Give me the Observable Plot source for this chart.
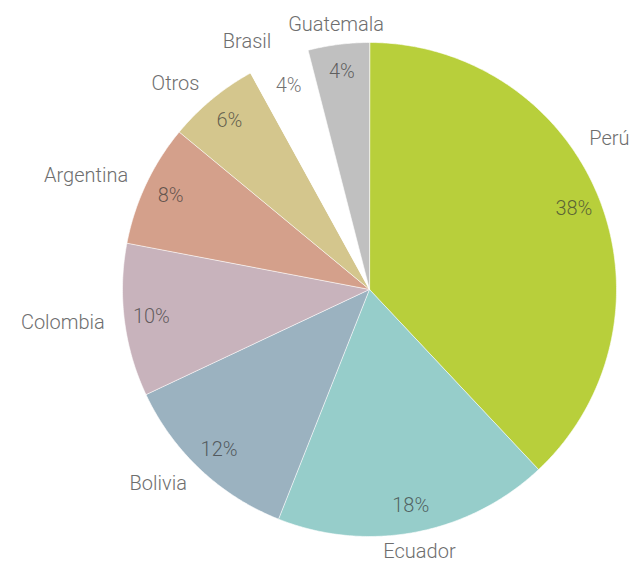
<!DOCTYPE html>
<html><head><meta charset="utf-8">
<script src="https://cdn.jsdelivr.net/npm/d3@7"></script>
<script src="https://cdn.jsdelivr.net/npm/@observablehq/plot@0.6"></script>
<style>body{margin:0;background:#fff;}</style>
</head><body><div id="chart"></div>
<script>
// Data
const countries = ["Perú", "Ecuador", "Bolivia", "Colombia", "Argentina", "Otros", "Brasil", "Guatemala"];
const shares = [38, 18, 12, 10, 8, 6, 4, 4];
const sliceColors = ["#b8cf3b", "#96cdca", "#9bb2c0", "#c8b3bc", "#d4a08b", "#d4c68d", "#ffffff", "#c0c0c0"];

// Layout
const W = 635, H = 562, cx = 369, cy = 289, R = 247;
const FONT_SIZE = 20, FONT_FAMILY = "Roboto", FONT_WEIGHT = 300;

const total = d3.sum(shares);
let acc = 0;
const slices = countries.map((name, i) => {
  const a0 = acc / total * 2 * Math.PI;
  acc += shares[i];
  const a1 = acc / total * 2 * Math.PI;
  return {name, value: shares[i], a0, a1, mid: (a0 + a1) / 2};
});

// slice polygons in unit coordinates (angle clockwise from north)
const poly = [];
for (const s of slices) {
  poly.push({name: s.name, x: 0, y: 0});
  const n = Math.max(2, Math.ceil((s.a1 - s.a0) / (Math.PI / 360)));
  for (let k = 0; k <= n; k++) {
    const a = s.a0 + (s.a1 - s.a0) * k / n;
    poly.push({name: s.name, x: Math.sin(a), y: Math.cos(a)});
  }
}

// percent labels
const pctLabels = slices.map(s => ({
  text: Math.round(s.value / total * 100) + "%",
  x: 0.89 * Math.sin(s.mid), y: 0.89 * Math.cos(s.mid)
}));

// name labels, slid along the circle if needed to fit in the canvas
const ctx = document.createElement("canvas").getContext("2d");
ctx.font = `${FONT_WEIGHT} ${FONT_SIZE}px ${FONT_FAMILY}`;
const nameLabels = slices.map(s => {
  let a = s.mid;
  const r = 1.08;
  const sn = Math.sin(a);
  const anchor = sn > 0.35 ? "start" : sn < -0.35 ? "end" : "middle";
  const w = ctx.measureText(s.name).width / R;
  let target = null;
  if (anchor === "start") {
    const maxX = (W - 6 - cx) / R - w;
    if (r * Math.sin(a) > maxX) target = maxX / r;
  } else if (anchor === "end") {
    const minX = -(cx - 6) / R + w;
    if (r * Math.sin(a) < minX) target = minX / r;
  }
  if (target !== null) {
    const as = Math.asin(target);
    a = Math.cos(a) >= 0 ? as : Math.PI - as;
  }
  return {text: s.name, anchor, x: r * Math.sin(a), y: r * Math.cos(a)};
});

const textOpts = {x: "x", y: "y", text: "text", fontSize: FONT_SIZE, fontWeight: FONT_WEIGHT};

const chart = Plot.plot({
  width: W, height: H,
  x: {domain: [-1, 1], range: [cx - R, cx + R], axis: null},
  y: {domain: [-1, 1], range: [cy + R, cy - R], axis: null},
  color: {domain: countries, range: sliceColors},
  style: {fontFamily: FONT_FAMILY, background: "white"},
  marks: [
    Plot.line(poly, {x: "x", y: "y", z: "name", fill: "name", stroke: "white", strokeWidth: 0.6, curve: "linear-closed"}),
    Plot.text(pctLabels, {...textOpts, textAnchor: "middle", fill: "#333", fillOpacity: 0.7}),
    ...["start", "middle", "end"].map(anc =>
      Plot.text(nameLabels.filter(d => d.anchor === anc), {...textOpts, textAnchor: anc, fill: "#6e6e6e"}))
  ]
});
document.getElementById("chart").appendChild(chart);
</script>
</body></html>
